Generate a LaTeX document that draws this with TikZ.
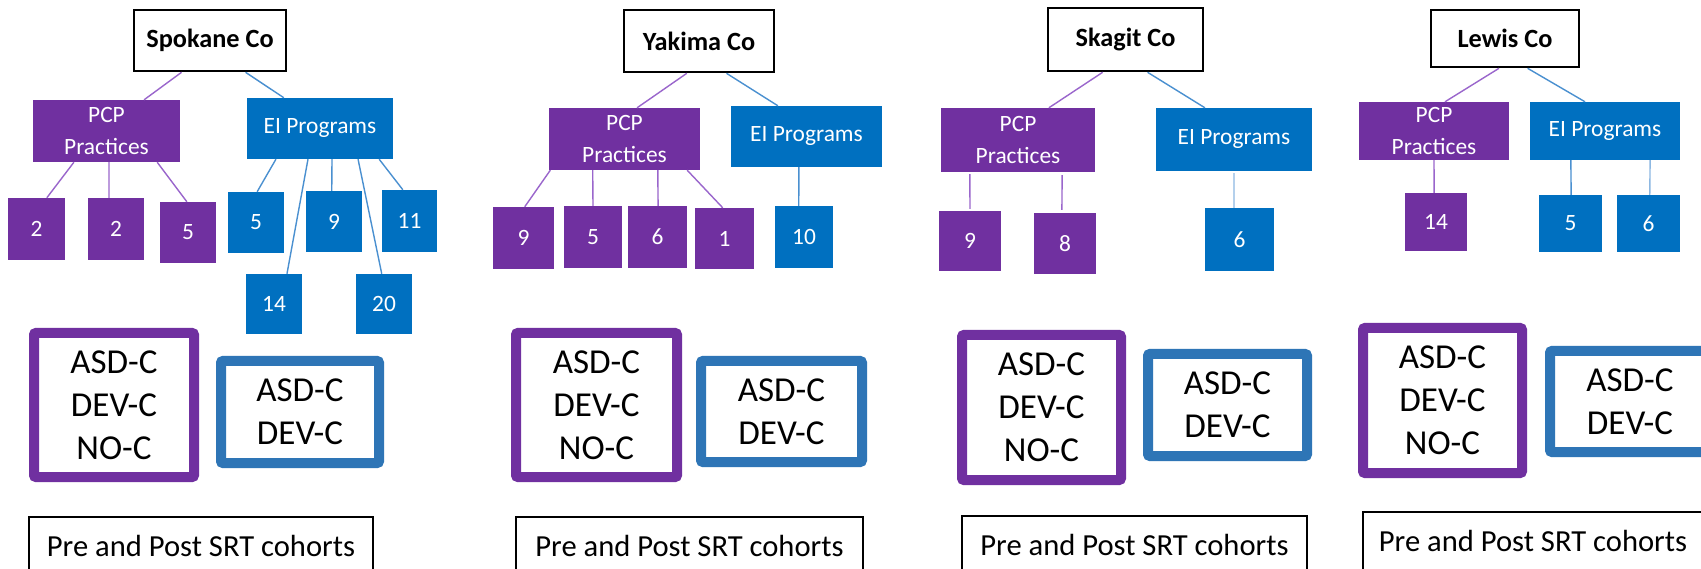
\documentclass[tikz,border=0pt]{standalone}
\usepackage{fontspec}
\setmainfont{Carlito}
\usetikzlibrary{calc}
\definecolor{pcp}{HTML}{7030A0}
\definecolor{eib}{HTML}{0070C0}
\definecolor{eiframe}{HTML}{2E75B6}
\definecolor{pline}{HTML}{9A66CC}
\definecolor{bline}{HTML}{4A90D0}
\definecolor{bline2}{HTML}{8DB8E2}
\newcommand\tconn[5]{\draw[#1] ($(#2.south west)!#3!(#2.south east)$) -- ($(#4.north west)!#5!(#4.north east)$);}
\tikzset{
  county/.style={draw=black, line width=2.6pt, fill=white, inner sep=0pt, font=\fontsize{26.3}{30}\selectfont\bfseries},
  pbox/.style={fill=pcp, text=white, inner sep=0pt, align=center, font=\fontsize{23.4}{31.5}\selectfont},
  ebox/.style={fill=eib, text=white, inner sep=0pt, align=center, font=\fontsize{23.4}{31.5}\selectfont},
  pframe/.style={draw=pcp, line width=10pt, rounded corners=2pt, fill=white, inner sep=0pt, align=center, font=\fontsize{35}{43}\selectfont},
  eframe/.style={draw=eiframe, line width=10pt, rounded corners=2pt, fill=white, inner sep=0pt, align=center, font=\fontsize{35}{43}\selectfont},
  cohort/.style={draw=black, line width=1.5pt, fill=white, inner sep=0pt, minimum height=58pt, font=\fontsize{30.6}{36}\selectfont},
  pl/.style={draw=pline, line width=1.4pt},
  bl/.style={draw=bline, line width=1.4pt},
  bl2/.style={draw=bline2, line width=1.4pt}
}
\begin{document}
\begin{tikzpicture}[x=1pt,y=-1pt]
\useasboundingbox (0,0) rectangle (1701,569);
\clip (0,0) rectangle (1701,569);
\fill[white] (0,0) rectangle (1701,569);

% ---------- Spokane ----------
\node[county, minimum width=152pt, minimum height=61pt] (sp) at (210,40.5) {Spokane Co};
\node[pbox, minimum width=147pt, minimum height=62pt] (spP) at (106.5,131) {PCP\\Practices};
\node[ebox, minimum width=146pt, minimum height=61pt] (spE) at (320,128.5) {EI Programs};
\node[pbox, minimum width=57pt, minimum height=62pt] (sp1) at (36.5,229) {2};
\node[pbox, minimum width=56pt, minimum height=62pt] (sp2) at (116,229) {2};
\node[pbox, minimum width=56pt, minimum height=61pt] (sp3) at (188,232.5) {5};
\node[ebox, minimum width=56pt, minimum height=61pt] (spe1) at (256,222.5) {5};
\node[ebox, minimum width=56pt, minimum height=61pt] (spe2) at (334,221.5) {9};
\node[ebox, minimum width=55pt, minimum height=62pt] (spe3) at (409.5,221) {11};
\node[ebox, minimum width=56pt, minimum height=60pt] (spe4) at (274,304) {14};
\node[ebox, minimum width=56pt, minimum height=60pt] (spe5) at (384,304) {20};
\tconn{pl}{sp}{.316}{spP}{.755}
\tconn{bl}{sp}{.73}{spE}{.253}
\tconn{pl}{spP}{.279}{sp1}{.68}
\tconn{pl}{spP}{.517}{sp2}{.375}
\tconn{pl}{spP}{.844}{sp3}{.48}
\tconn{bl}{spE}{.199}{spe1}{.52}
\tconn{bl}{spE}{.418}{spe4}{.73}
\tconn{bl}{spE}{.582}{spe2}{.46}
\tconn{bl}{spE}{.76}{spe5}{.46}
\tconn{bl}{spE}{.904}{spe3}{.38}
\node[pframe, minimum width=160pt, minimum height=144pt] (spC1) at (114,405) {ASD-C\\DEV-C\\NO-C};
\node[eframe, minimum width=158pt, minimum height=102pt] (spC2) at (300,412) {ASD-C\\DEV-C};
\node[cohort, minimum width=344pt] (spR) at (201,546) {Pre and Post SRT cohorts};

% ---------- Yakima ----------
\node[county, minimum width=150pt, minimum height=62pt] (yk) at (699,41) {Yakima Co};
\node[pbox, minimum width=151pt, minimum height=62pt] (ykP) at (624.5,139) {PCP\\Practices};
\node[ebox, minimum width=151pt, minimum height=61pt] (ykE) at (806.5,136.5) {EI Programs};
\node[pbox, minimum width=61pt, minimum height=62pt] (yk1) at (523.5,238) {9};
\node[pbox, minimum width=58pt, minimum height=62pt] (yk2) at (593,237) {5};
\node[pbox, minimum width=59pt, minimum height=62pt] (yk3) at (657.5,237) {6};
\node[pbox, minimum width=59pt, minimum height=61pt] (yk4) at (724.5,238.5) {1};
\node[ebox, minimum width=58pt, minimum height=62pt] (yke1) at (804,237) {10};
\tconn{pl}{yk}{.42}{ykP}{.583}
\tconn{bl}{yk}{.68}{ykE}{.311}
\tconn{pl}{ykP}{.01}{yk1}{.52}
\tconn{pl}{ykP}{.29}{yk2}{.5}
\tconn{pl}{ykP}{.72}{yk3}{.51}
\tconn{pl}{ykP}{.914}{yk4}{.47}
\tconn{bl}{ykE}{.45}{yke1}{.41}
\node[pframe, minimum width=161pt, minimum height=144pt] (ykC1) at (596.5,405) {ASD-C\\DEV-C\\NO-C};
\node[eframe, minimum width=161pt, minimum height=101pt] (ykC2) at (781.5,411.5) {ASD-C\\DEV-C};
\node[cohort, minimum width=347pt] (ykR) at (689.5,546) {Pre and Post SRT cohorts};

% ---------- Skagit ----------
\node[county, minimum width=155pt, minimum height=63pt] (sk) at (1125.5,39.5) {Skagit Co};
\node[pbox, minimum width=154pt, minimum height=64pt] (skP) at (1018,140) {PCP\\Practices};
\node[ebox, minimum width=156pt, minimum height=63pt] (skE) at (1234,139.5) {EI Programs};
\node[pbox, minimum width=62pt, minimum height=60pt] (sk1) at (970,241) {9};
\node[pbox, minimum width=62pt, minimum height=61pt] (sk2) at (1065,243.5) {8};
\node[ebox, minimum width=69pt, minimum height=63pt] (ske1) at (1239.5,239.5) {6};
\tconn{pl}{sk}{.355}{skP}{.70}
\tconn{bl}{sk}{.64}{skE}{.314}
\tconn{pl,shorten <=2pt,shorten >=2pt}{skP}{.188}{sk1}{.5}
\tconn{pl,shorten <=3pt,shorten >=3pt}{skP}{.786}{sk2}{.45}
\tconn{bl2,shorten <=2pt}{skE}{.5}{ske1}{.42}
\node[pframe, minimum width=159pt, minimum height=145pt] (skC1) at (1041.5,407.5) {ASD-C\\DEV-C\\NO-C};
\node[eframe, minimum width=159pt, minimum height=102pt] (skC2) at (1227.5,405) {ASD-C\\DEV-C};
\node[cohort, minimum width=345pt] (skR) at (1134.5,545) {Pre and Post SRT cohorts};

% ---------- Lewis ----------
\node[county, minimum width=148pt, minimum height=57pt] (lw) at (1505,38.5) {Lewis Co};
\node[pbox, minimum width=150pt, minimum height=58pt] (lwP) at (1434,131) {PCP\\Practices};
\node[ebox, minimum width=150pt, minimum height=58pt] (lwE) at (1605,131) {EI Programs};
\node[pbox, minimum width=62pt, minimum height=58pt] (lw1) at (1436,222) {14};
\node[ebox, minimum width=63pt, minimum height=57pt] (lwe1) at (1570.5,223.5) {5};
\node[ebox, minimum width=63pt, minimum height=57pt] (lwe2) at (1648.5,223.5) {6};
\tconn{pl}{lw}{.46}{lwP}{.573}
\tconn{bl}{lw}{.65}{lwE}{.367}
\tconn{pl}{lwP}{.5}{lw1}{.47}
\tconn{bl}{lwE}{.273}{lwe1}{.51}
\tconn{bl2}{lwE}{.8}{lwe2}{.52}
\node[pframe, minimum width=159pt, minimum height=145pt] (lwC1) at (1442.5,400.5) {ASD-C\\DEV-C\\NO-C};
\node[eframe, minimum width=160pt, minimum height=101pt] (lwC2) at (1630,401.5) {ASD-C\\DEV-C};
\node[cohort, minimum width=340pt] (lwR) at (1533,541) {Pre and Post SRT cohorts};
\end{tikzpicture}
\end{document}
